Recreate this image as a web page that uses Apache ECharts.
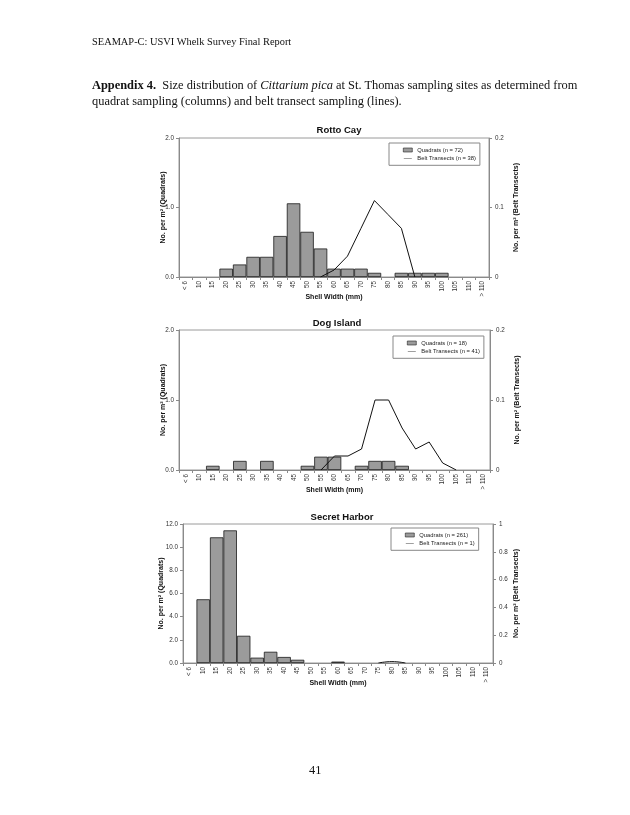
<!DOCTYPE html>
<html><head><meta charset="utf-8">
<script src="https://cdn.jsdelivr.net/npm/echarts@6/dist/echarts.min.js"></script>
<style>
html,body{margin:0;padding:0;background:#fff;width:630px;height:815px;overflow:hidden;}
#chart{position:absolute;left:0;top:0;width:630px;height:815px;}
.t{position:absolute;font-family:"Liberation Serif","Times New Roman",serif;color:#111;white-space:nowrap;}
</style></head><body>
<div id="chart"></div>
<div class="t" style="left:92px;top:36px;font-size:10.4px;">SEAMAP-C: USVI Whelk Survey Final Report</div>
<div class="t" style="left:92px;top:77px;font-size:12.4px;line-height:16px;"><b>Appendix 4.</b>&nbsp; Size distribution of <i>Cittarium pica</i> at St. Thomas sampling sites as determined from<br>quadrat sampling (columns) and belt transect sampling (lines).</div>
<div class="t" style="left:309px;top:763px;font-size:12.4px;">41</div>
<script>
const categories = ['< 6','10','15','20','25','30','35','40','45','50','55','60','65','70','75','80','85','90','95','100','105','110','> 110'];

const siteTitles = ['Rotto Cay', 'Dog Island', 'Secret Harbor'];
const quadratNames = ['Quadrats (n = 72)', 'Quadrats (n = 18)', 'Quadrats (n = 261)'];
const beltNames = ['Belt Transects (n = 38)', 'Belt Transects (n = 41)', 'Belt Transects (n = 1)'];

const rottoQuadrats = [0,0,0,0.12,0.18,0.29,0.29,0.59,1.06,0.65,0.41,0.12,0.12,0.12,0.06,0,0.06,0.06,0.06,0.06,0,0,0];
const rottoBelt = [null,null,null,null,null,null,null,null,null,null,0,0.01,0.03,0.07,0.11,0.09,0.07,0,null,null,null,null,null];

const dogQuadrats = [0,0,0.06,0,0.13,0,0.13,0,0,0.06,0.19,0.19,0,0.06,0.13,0.13,0.06,0,0,0,0,0,0];
const dogBelt = [null,null,null,null,null,null,null,null,null,null,0,0.02,0.02,0.03,0.10,0.10,0.06,0.03,0.04,0.01,0,null,null];

const secretQuadrats = [0,5.5,10.85,11.45,2.35,0.46,0.97,0.52,0.28,0,0,0.12,0,0,0,0,0,0,0,0,0,0,0];
const secretBelt = [null,null,null,null,null,null,null,null,null,null,null,null,null,null,0,0.01,0,null,null,null,null,null,null];

// axis ranges: [min, max, interval]
const leftRanges = [[0,2,1],[0,2,1],[0,12,2]];
const rightRanges = [[0,0.2,0.1],[0,0.2,0.1],[0,1,0.2]];

const quadratData = [rottoQuadrats, dogQuadrats, secretQuadrats];
const beltData = [rottoBelt, dogBelt, secretBelt];

// layout
const grids = [
  {left:179, top:138, width:310, height:139},
  {left:179, top:330, width:311, height:140},
  {left:183, top:524, width:310, height:139}
];
const titlePos = [[339,125],[337,318],[342,512]];
const legendPos = [[389,143],[393,336],[391,528]];
const leftNameGap = [12,12,18];
const rightNameGap = [24,24,20];

const FONT = '"Liberation Sans", Arial, sans-serif';
const axisGray = '#8a8a8a';
const lineIcon = 'path://M0,0 M0,4.5 L20,4.5 L20,5.5 L0,5.5 Z M20,10';

const option = {
  animation:false,
  backgroundColor:'transparent',
  textStyle:{fontFamily:FONT},
  title: siteTitles.map((t,i)=>({
    text:t, left:titlePos[i][0], top:titlePos[i][1], textAlign:'center', padding:0,
    textStyle:{fontSize:9.5, fontWeight:'bold', color:'#111', fontFamily:FONT}
  })),
  grid: grids.map(g=>Object.assign({show:true, borderColor:'#9a9a9a', borderWidth:1, backgroundColor:'transparent'}, g)),
  legend: [0,1,2].map(i=>({
    orient:'vertical', left:legendPos[i][0], top:legendPos[i][1],
    data:[{name:quadratNames[i], icon:'rect', itemStyle:{color:'#9b9b9b', borderColor:'#222', borderWidth:0.6}}, {name:beltNames[i], icon:lineIcon}],
    padding:[4,4,4,14], itemWidth:9, itemHeight:4, itemGap:2.3,
    borderColor:'#888', borderWidth:1, backgroundColor:'#fff',
    textStyle:{fontSize:5.8, color:'#222', fontFamily:FONT, lineHeight:6},
    selectedMode:false
  })),
  xAxis: [0,1,2].map(i=>({
    type:'category', gridIndex:i, data:categories,
    axisLine:{show:true, lineStyle:{color:axisGray, width:1}},
    axisTick:{show:true, length:3, lineStyle:{color:axisGray}},
    axisLabel:{rotate:90, interval:0, fontSize:6.3, color:'#333', margin:4, fontFamily:FONT},
    name:'Shell Width (mm)', nameLocation:'middle', nameGap:17, nameMoveOverlap:false,
    nameTextStyle:{fontSize:7, fontWeight:'bold', color:'#111', fontFamily:FONT}
  })),
  yAxis: [].concat(...[0,1,2].map(i=>[
    {
      type:'value', gridIndex:i, position:'left',
      min:leftRanges[i][0], max:leftRanges[i][1], interval:leftRanges[i][2],
      axisLine:{show:true, lineStyle:{color:axisGray}},
      axisTick:{show:true, length:3, lineStyle:{color:axisGray}},
      splitLine:{show:false},
      axisLabel:{fontSize:6.3, color:'#333', margin:5, fontFamily:FONT, formatter:v=>v.toFixed(1)},
      name:'No. per m² (Quadrats)', nameLocation:'middle', nameGap:leftNameGap[i], nameRotate:90, nameMoveOverlap:false,
      nameTextStyle:{fontSize:7, fontWeight:'bold', color:'#111', fontFamily:FONT}
    },
    {
      type:'value', gridIndex:i, position:'right',
      min:rightRanges[i][0], max:rightRanges[i][1], interval:rightRanges[i][2],
      axisLine:{show:true, lineStyle:{color:axisGray}},
      axisTick:{show:true, length:3, lineStyle:{color:axisGray}},
      splitLine:{show:false},
      axisLabel:{fontSize:6.3, color:'#333', margin:6, fontFamily:FONT, formatter:v=>String(+v.toFixed(2))},
      name:'No. per m² (Belt Transects)', nameLocation:'middle', nameGap:rightNameGap[i], nameRotate:90, nameMoveOverlap:false,
      nameTextStyle:{fontSize:7, fontWeight:'bold', color:'#111', fontFamily:FONT}
    }
  ])),
  series: [].concat(...[0,1,2].map(i=>[
    {
      type:'bar', name:quadratNames[i], xAxisIndex:i, yAxisIndex:2*i,
      data:quadratData[i].map(v=>v===0?'-':v),
      barCategoryGap:'0%',
      itemStyle:{color:'#9b9b9b', borderColor:'#1a1a1a', borderWidth:0.8}
    },
    {
      type:'line', name:beltNames[i], xAxisIndex:i, yAxisIndex:2*i+1,
      data:beltData[i], symbol:'none', smooth:i===2,
      lineStyle:{color:'#111', width:1}, itemStyle:{color:'#111'}
    }
  ]))
};
const chart = echarts.init(document.getElementById('chart'), null, {renderer:'canvas'});
chart.setOption(option);
</script>
</body></html>
